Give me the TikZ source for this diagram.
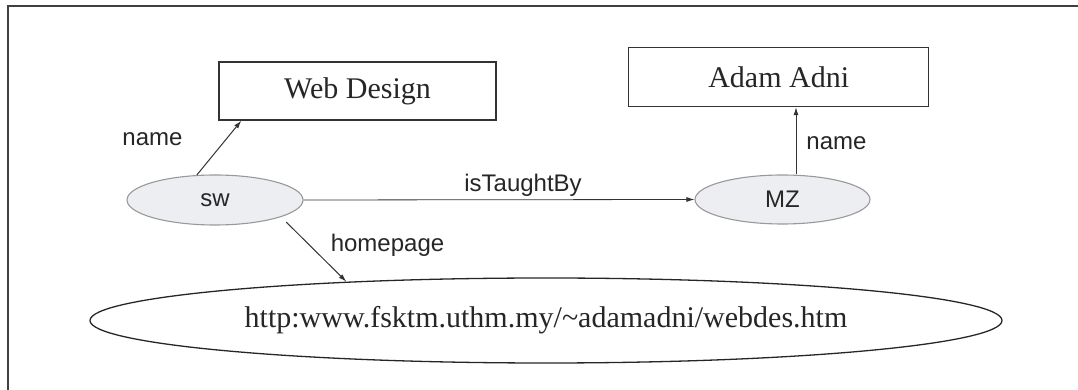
\documentclass[tikz,border=0pt]{standalone}
\usepackage{fontspec}
\setmainfont{Liberation Serif}
\setsansfont{Liberation Sans}
\usepackage{tikz}
\usetikzlibrary{positioning}
\usetikzlibrary{shapes.geometric}
\usetikzlibrary{arrows.meta}
\definecolor{resource_fill}{HTML}{EDEEF2}
\tikzstyle{rdf_literal} = [draw = black!80, line width = 1.3, rectangle, inner sep = 0, text = black!85, font = \fontsize{30}{34}\selectfont]
\tikzstyle{rdf_resource} = [draw = black!40, line width = 1.1, ellipse, fill = resource_fill, inner sep = 0, text = black!85, font = \sffamily\fontsize{24}{28}\selectfont]
\tikzstyle{rdf_url} = [draw = black!85, line width = 1.3, ellipse, inner sep = 0, text = black!85, font = \fontsize{30}{34}\selectfont]
\tikzstyle{rdf_property} = [inner sep = 0, text = black!85, font = \sffamily\fontsize{24}{28}\selectfont]
\tikzstyle{rdf_edge} = [-{Latex[length = 8pt, width = 5pt]}, line width = 1, black!80]

\begin{document}
\begin{tikzpicture}[x = 1pt, y = 1pt]
    \useasboundingbox (0, 0) rectangle (1078, 390);
    \draw [black!75, line width = 1.3] (8, 0) -- (8, 384) -- (1078, 384);

    \node [rdf_literal, minimum width = 277, minimum height = 58] (web_design) at (357.5, 299) {Web Design};
    \node [rdf_literal, minimum width = 300, minimum height = 59] (adam_adni) at (778.7, 313) {Adam Adni};
    \node [rdf_resource, minimum width = 176, minimum height = 50] (sw) at (215, 190) {sw};
    \node [rdf_resource, minimum width = 175, minimum height = 49] (mz) at (782.5, 190.5) {MZ};
    \node [rdf_url, minimum width = 912, minimum height = 85] (url) at (546, 69.5) {http:www.fsktm.uthm.my/\textasciitilde adamadni/webdes.htm};

    \node [rdf_property] (name_sw) at (152.5, 251) {name};
    \node [rdf_property] (taught_by) at (523, 204.5) {isTaughtBy};
    \node [rdf_property] (name_mz) at (836.5, 246.5) {name};
    \node [rdf_property] (home_page) at (387.5, 145) {homepage};

    \draw [rdf_edge] (sw.126) -- ([xshift = 23pt]web_design.south west);
    \draw [rdf_edge, line width = 0.8] (sw.east) -- (mz.west);
    \draw [rdf_edge] ([xshift = 13.5pt]mz.north) -- ([xshift = 13.5pt]mz.north |- adam_adni.south);
    \draw [rdf_edge] ([yshift = -7pt]sw.-12) -- (url.169);
\end{tikzpicture}
\end{document}
